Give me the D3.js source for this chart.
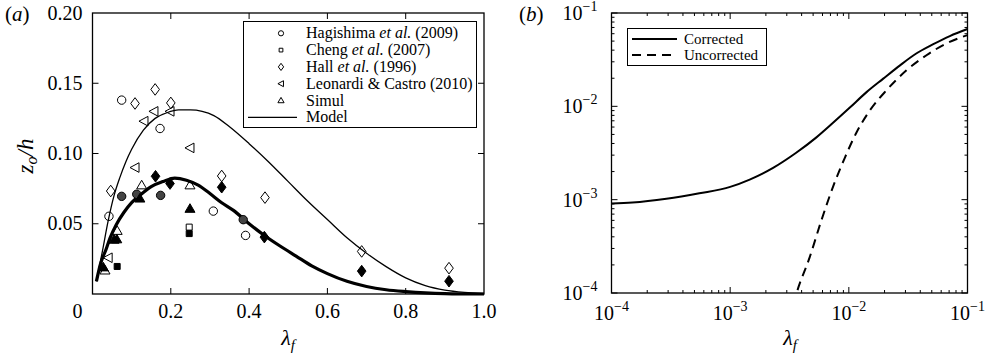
<!DOCTYPE html>
<html>
<head>
<meta charset="utf-8">
<script src="https://cdn.jsdelivr.net/npm/d3@7"></script>
<style>
  body { margin: 0; background: #fff; }
  svg { display: block; }
  svg text { font-family: "Liberation Serif", "Times New Roman", "DejaVu Serif", serif; }
</style>
</head>
<body>
<svg id="fig" width="988" height="359" font-family="Liberation Serif, serif"></svg>
<script>
// ---------- Panel (a): roughness length z0/h versus frontal area density ----------
const tickXA = [0, 0.2, 0.4, 0.6, 0.8, 1.0];
const tickXALabels = ["0", "0.2", "0.4", "0.6", "0.8", "1.0"];
const tickYA = [0.05, 0.10, 0.15, 0.20];
const tickYALabels = ["0.05", "0.10", "0.15", "0.20"];

// model curves (thin: uncorrected model, thick: corrected model)
const modelThinX = [0.010, 0.025, 0.040, 0.055, 0.070, 0.085, 0.100, 0.130, 0.160, 0.190, 0.220, 0.250, 0.280, 0.310, 0.350, 0.400, 0.450, 0.500, 0.550, 0.600, 0.650, 0.700, 0.750, 0.800, 0.850, 0.900, 0.950, 1.000];
const modelThinY = [0.009, 0.030, 0.052, 0.070, 0.083, 0.094, 0.103, 0.1166, 0.125, 0.129, 0.131, 0.131, 0.130, 0.127, 0.119, 0.107, 0.094, 0.080, 0.066, 0.053, 0.040, 0.029, 0.0195, 0.0115, 0.006, 0.0028, 0.0012, 0.0004];
const modelThickX = [0.010, 0.020, 0.035, 0.045, 0.060, 0.080, 0.100, 0.120, 0.150, 0.180, 0.210, 0.240, 0.270, 0.300, 0.330, 0.360, 0.400, 0.440, 0.480, 0.520, 0.560, 0.600, 0.650, 0.700, 0.750, 0.800, 0.850, 0.900, 1.000];
const modelThickY = [0.009, 0.021, 0.032, 0.040, 0.049, 0.058, 0.065, 0.070, 0.0765, 0.080, 0.0825, 0.081, 0.0775, 0.0715, 0.065, 0.0595, 0.050, 0.0415, 0.034, 0.027, 0.020, 0.0145, 0.009, 0.0053, 0.003, 0.0017, 0.0008, 0.0003, 0.0];

// measurements: [lambda_f, z0/h]; open = original, filled = re-evaluated
const hagishimaOpen = [[0.042, 0.0553], [0.0745, 0.138], [0.1725, 0.1178], [0.3086, 0.059], [0.391, 0.0417]];
const hagishimaFilled = [[0.0745, 0.0695], [0.113, 0.071], [0.174, 0.0702], [0.385, 0.0529]];
const chengOpen = [[0.247, 0.0476]];
const chengFilled = [[0.063, 0.0196], [0.247, 0.043]];
const hallOpen = [[0.0465, 0.0733], [0.1086, 0.1356], [0.160, 0.1456], [0.200, 0.136], [0.330, 0.084], [0.4406, 0.0686], [0.6876, 0.0303], [0.9106, 0.0184]];
const hallFilled = [[0.161, 0.0838], [0.198, 0.0786], [0.330, 0.076], [0.439, 0.0405], [0.6876, 0.0163], [0.9106, 0.0091]];
const leonardiOpen = [[0.040, 0.0258], [0.1086, 0.090], [0.1315, 0.123], [0.157, 0.130], [0.198, 0.130], [0.249, 0.104]];
const simulOpen = [[0.032, 0.0168], [0.063, 0.045], [0.1256, 0.0774], [0.249, 0.0774]];
const simulFilled = [[0.0276, 0.019], [0.055, 0.0387], [0.062, 0.039], [0.121, 0.068], [0.249, 0.0607]];

const legendALabels = [
  [["Hagishima ", false], ["et al.", true], [" (2009)", false]],
  [["Cheng ", false], ["et al.", true], [" (2007)", false]],
  [["Hall ", false], ["et al.", true], [" (1996)", false]],
  [["Leonardi & Castro (2010)", false]],
  [["Simul", false]],
  [["Model", false]]
];

// ---------- Panel (b): corrected vs uncorrected model on log axes ----------
const correctedX = [1.0e-4, 1.5e-4, 2.9e-4, 5.5e-4, 1.0e-3, 1.46e-3, 2.3e-3, 3.6e-3, 5.3e-3, 7.4e-3, 1.02e-2, 1.41e-2, 1.95e-2, 2.7e-2, 3.7e-2, 5.1e-2, 7.1e-2, 1.0e-1];
const correctedY = [9.1e-4, 9.3e-4, 1.02e-3, 1.17e-3, 1.37e-3, 1.64e-3, 2.19e-3, 3.18e-3, 4.62e-3, 6.7e-3, 9.7e-3, 1.42e-2, 1.98e-2, 2.75e-2, 3.68e-2, 4.6e-2, 5.66e-2, 6.73e-2];
const uncorrectedX = [3.4e-3, 3.63e-3, 4.69e-3, 5.89e-3, 7.38e-3, 9.25e-3, 1.16e-2, 1.50e-2, 2.07e-2, 3.06e-2, 4.51e-2, 6.65e-2, 1.0e-1];
const uncorrectedY = [7.5e-5, 1.0e-4, 2.44e-4, 6.08e-4, 1.39e-3, 2.81e-3, 5.24e-3, 9.0e-3, 1.48e-2, 2.43e-2, 3.53e-2, 4.72e-2, 5.8e-2];
const decadesB = [1e-4, 1e-3, 1e-2, 1e-1];
const decadeExponents = ["−4", "−3", "−2", "−1"];
const legendBLabels = ["Corrected", "Uncorrected"];

// ---------- drawing ----------
const svg = d3.select("#fig");
const TICK_FONT = 20;

const A = { left: 92.5, right: 484, top: 13, bottom: 294 };
const B = { left: 611.5, right: 967.5, top: 13, bottom: 293 };

const xA = d3.scaleLinear().domain([0, 1]).range([A.left, A.right]);
const yA = d3.scaleLinear().domain([0, 0.2]).range([A.bottom, A.top]);
const xB = d3.scaleLog().domain([1e-4, 1e-1]).range([B.left, B.right]);
const yB = d3.scaleLog().domain([1e-4, 1e-1]).range([B.bottom, B.top]);

// marker outlines
const shapes = {
  circle: s => d3.symbol(d3.symbolCircle, Math.PI * (4.2 * s) ** 2)(),
  square: s => `M${-3 * s},${-3 * s}h${6 * s}v${6 * s}h${-6 * s}Z`,
  diamond: s => `M0,${-5.8 * s}L${4.3 * s},0L0,${5.8 * s}L${-4.3 * s},0Z`,
  triLeft: s => `M${-5 * s},0L${4 * s},${-4.8 * s}L${4 * s},${4.8 * s}Z`,
  triUp: s => `M0,${-5 * s}L${5 * s},${3.6 * s}L${-5 * s},${3.6 * s}Z`
};

function frame(g, P) {
  g.append("rect").attr("x", P.left).attr("y", P.top)
    .attr("width", P.right - P.left).attr("height", P.bottom - P.top)
    .attr("fill", "none").attr("stroke", "#000").attr("stroke-width", 1.3);
}

// ===== panel (a) =====
const ga = svg.append("g");

// inward ticks on all four sides
const innerXA = tickXA.filter(v => v > 0 && v < 1);
const innerYA = tickYA.filter(v => v < 0.2);
ga.append("g").selectAll("line").data(innerXA).join("line")
  .attr("x1", d => xA(d)).attr("x2", d => xA(d)).attr("y1", A.bottom).attr("y2", A.bottom - 6)
  .attr("stroke", "#000").attr("stroke-width", 1);
ga.append("g").selectAll("line").data(innerXA).join("line")
  .attr("x1", d => xA(d)).attr("x2", d => xA(d)).attr("y1", A.top).attr("y2", A.top + 6)
  .attr("stroke", "#000").attr("stroke-width", 1);
ga.append("g").selectAll("line").data(innerYA).join("line")
  .attr("x1", A.left).attr("x2", A.left + 6).attr("y1", d => yA(d)).attr("y2", d => yA(d))
  .attr("stroke", "#000").attr("stroke-width", 1);
ga.append("g").selectAll("line").data(innerYA).join("line")
  .attr("x1", A.right).attr("x2", A.right - 6).attr("y1", d => yA(d)).attr("y2", d => yA(d))
  .attr("stroke", "#000").attr("stroke-width", 1);

// tick labels
ga.append("g").selectAll("text").data(tickXA).join("text")
  .attr("x", d => d === 0 ? xA(d) - 15 : xA(d))
  .attr("y", 318)
  .attr("text-anchor", "middle").attr("font-size", TICK_FONT)
  .text((d, i) => tickXALabels[i]);
ga.append("g").selectAll("text").data(tickYA).join("text")
  .attr("x", A.left - 10).attr("y", d => yA(d) + 6.5)
  .attr("text-anchor", "end").attr("font-size", TICK_FONT)
  .text((d, i) => tickYALabels[i]);

// model curves
const lineA = d3.line().x(d => xA(d[0])).y(d => yA(d[1])).curve(d3.curveMonotoneX);
ga.append("path").datum(d3.zip(modelThinX, modelThinY)).attr("d", lineA)
  .attr("fill", "none").attr("stroke", "#000").attr("stroke-width", 1.3);
ga.append("path").datum(d3.zip(modelThickX, modelThickY)).attr("d", lineA)
  .attr("fill", "none").attr("stroke", "#000").attr("stroke-width", 3.2);

function markers(g, data, shape, filled, fillColor) {
  g.append("g").selectAll("path").data(data).join("path")
    .attr("transform", d => `translate(${xA(d[0])},${yA(d[1])})`)
    .attr("d", shapes[shape](1))
    .attr("fill", filled ? (fillColor || "#000") : "none")
    .attr("stroke", "#000").attr("stroke-width", 1);
}
markers(ga, hagishimaOpen, "circle", false);
markers(ga, chengOpen, "square", false);
markers(ga, hallOpen, "diamond", false);
markers(ga, leonardiOpen, "triLeft", false);
markers(ga, simulOpen, "triUp", false);
markers(ga, hagishimaFilled, "circle", true, "#444");
markers(ga, chengFilled, "square", true);
markers(ga, hallFilled, "diamond", true);
markers(ga, simulFilled, "triUp", true);

frame(ga, A);

// legend (a)
const legA = ga.append("g");
legA.append("rect").attr("x", 243.5).attr("y", 21.5).attr("width", 233).attr("height", 106)
  .attr("fill", "#fff").attr("stroke", "#000").attr("stroke-width", 1);
const legShapes = ["circle", "square", "diamond", "triLeft", "triUp", null];
legendALabels.forEach((parts, i) => {
  const cy = 33.3 + i * 16.8;
  if (legShapes[i]) {
    legA.append("path").attr("transform", `translate(281,${cy})`)
      .attr("d", shapes[legShapes[i]](0.62)).attr("fill", "none")
      .attr("stroke", "#000").attr("stroke-width", 1);
  } else {
    legA.append("line").attr("x1", 248).attr("x2", 297).attr("y1", cy).attr("y2", cy)
      .attr("stroke", "#000").attr("stroke-width", 1.3);
  }
  const t = legA.append("text").attr("x", 306).attr("y", cy + 5).attr("font-size", 16);
  parts.forEach(([s, it]) => t.append("tspan").attr("font-style", it ? "italic" : "normal").text(s));
});

// axis titles (a)
const ylab = ga.append("text").attr("transform", "translate(33,156) rotate(-90)")
  .attr("text-anchor", "middle").attr("font-size", 23).attr("font-style", "italic");
ylab.append("tspan").text("z");
ylab.append("tspan").attr("font-size", 16).attr("dy", 4).text("o");
ylab.append("tspan").attr("dy", -4).text("/h");

function lambdaLabel(g, cx) {
  const t = g.append("text").attr("x", cx).attr("y", 345).attr("text-anchor", "middle")
    .attr("font-size", 22).attr("font-style", "italic");
  t.append("tspan").text("λ");
  t.append("tspan").attr("font-size", 15).attr("dy", 5).text("f");
}
lambdaLabel(ga, 288);
ga.append("text").attr("x", 5).attr("y", 21).attr("font-size", 21)
  .html('(<tspan font-style="italic">a</tspan>)');

// ===== panel (b) =====
const gb = svg.append("g");
svg.append("defs").append("clipPath").attr("id", "clipB").append("rect")
  .attr("x", B.left).attr("y", B.top).attr("width", B.right - B.left).attr("height", B.bottom - B.top);

const ticksXB = xB.ticks();
const ticksYB = yB.ticks();
const isMajor = v => Math.abs(Math.log10(v) - Math.round(Math.log10(v))) < 1e-6;

const tickG = gb.append("g").attr("stroke", "#000").attr("stroke-width", 1);
ticksXB.forEach(v => {
  const L = isMajor(v) ? 6 : 3;
  tickG.append("line").attr("x1", xB(v)).attr("x2", xB(v)).attr("y1", B.bottom).attr("y2", B.bottom - L);
  tickG.append("line").attr("x1", xB(v)).attr("x2", xB(v)).attr("y1", B.top).attr("y2", B.top + L);
});
ticksYB.forEach(v => {
  const L = isMajor(v) ? 6 : 3;
  tickG.append("line").attr("x1", B.left).attr("x2", B.left + L).attr("y1", yB(v)).attr("y2", yB(v));
  tickG.append("line").attr("x1", B.right).attr("x2", B.right - L).attr("y1", yB(v)).attr("y2", yB(v));
});

// decade labels 10^n
decadesB.forEach((v, i) => {
  const tx = gb.append("text").attr("x", xB(v)).attr("y", 320).attr("text-anchor", "middle")
    .attr("font-size", TICK_FONT);
  tx.append("tspan").text("10");
  tx.append("tspan").attr("font-size", 14).attr("dy", -9).text(decadeExponents[i]);
  const ty = gb.append("text").attr("x", B.left - 14).attr("y", yB(v) + 7).attr("text-anchor", "end")
    .attr("font-size", TICK_FONT);
  ty.append("tspan").text("10");
  ty.append("tspan").attr("font-size", 14).attr("dy", -9).text(decadeExponents[i]);
});

const lineB = d3.line().x(d => xB(d[0])).y(d => yB(d[1])).curve(d3.curveMonotoneX);
const curves = gb.append("g").attr("clip-path", "url(#clipB)");
curves.append("path").datum(d3.zip(correctedX, correctedY)).attr("d", lineB)
  .attr("fill", "none").attr("stroke", "#000").attr("stroke-width", 2);
curves.append("path").datum(d3.zip(uncorrectedX, uncorrectedY)).attr("d", lineB)
  .attr("fill", "none").attr("stroke", "#000").attr("stroke-width", 2)
  .attr("stroke-dasharray", "9,6");

frame(gb, B);

// legend (b)
const legB = gb.append("g");
legB.append("rect").attr("x", 627.5).attr("y", 28.5).attr("width", 139).attr("height", 37)
  .attr("fill", "#fff").attr("stroke", "#000").attr("stroke-width", 1);
legendBLabels.forEach((s, i) => {
  const cy = 39 + i * 16;
  legB.append("line").attr("x1", 632).attr("x2", 677).attr("y1", cy).attr("y2", cy)
    .attr("stroke", "#000").attr("stroke-width", 2)
    .attr("stroke-dasharray", i === 1 ? "9,6" : null);
  legB.append("text").attr("x", 684).attr("y", cy + 4.5).attr("font-size", 15).text(s);
});

lambdaLabel(gb, 790);
gb.append("text").attr("x", 519).attr("y", 21).attr("font-size", 21)
  .html('(<tspan font-style="italic">b</tspan>)');
</script>
</body>
</html>
